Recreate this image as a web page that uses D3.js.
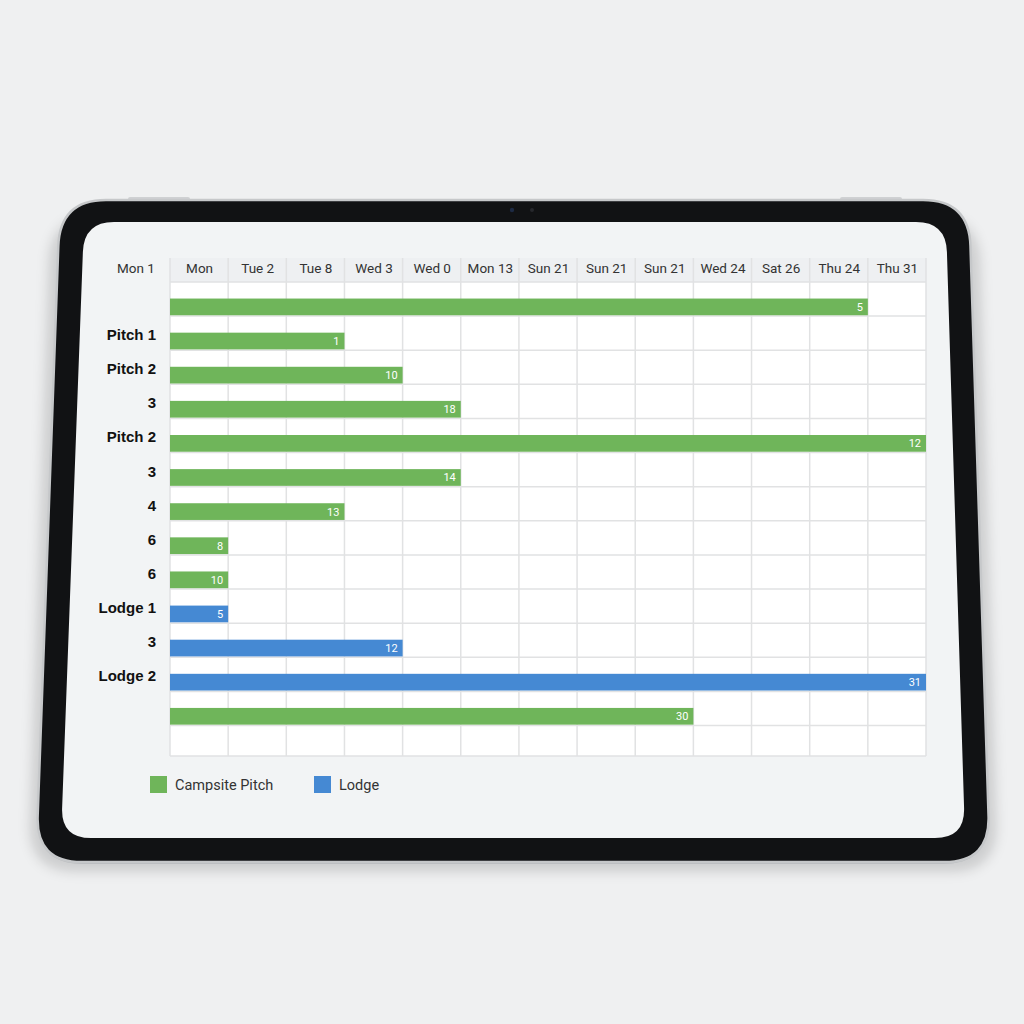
<!DOCTYPE html>
<html>
<head>
<meta charset="utf-8">
<script src="https://cdn.jsdelivr.net/npm/d3@7"></script>
<style>
  html, body { margin: 0; padding: 0; background: #eff0f1; }
  svg { display: block; }
</style>
</head>
<body>
<svg id="chart" width="1024" height="1024"></svg>
<script>
// ---- data ----
const cornerLabel = "Mon 1";
const columnLabels = ["Mon", "Tue 2", "Tue 8", "Wed 3", "Wed 0", "Mon 13", "Sun 21", "Sun 21", "Sun 21", "Wed 24", "Sat 26", "Thu 24", "Thu 31"];
const rowLabels = ["", "Pitch 1", "Pitch 2", "3", "Pitch 2", "3", "4", "6", "6", "Lodge 1", "3", "Lodge 2", ""];
const spanDays = [12, 3, 4, 5, 13, 5, 3, 1, 1, 1, 4, 13, 9];
const barLabels = ["5", "1", "10", "18", "12", "14", "13", "8", "10", "5", "12", "31", "30"];
const barTypes = ["Campsite Pitch", "Campsite Pitch", "Campsite Pitch", "Campsite Pitch", "Campsite Pitch", "Campsite Pitch", "Campsite Pitch", "Campsite Pitch", "Campsite Pitch", "Lodge", "Lodge", "Lodge", "Campsite Pitch"];
const legendNames = ["Campsite Pitch", "Lodge"];
const legendColors = ["#6fb55a", "#4589d3"];

const svg = d3.select("#chart");

// ---- tablet frame ----
function roundedQuad(pts, r) {
  const n = pts.length;
  let d = "";
  for (let i = 0; i < n; i++) {
    const p0 = pts[(i - 1 + n) % n], p1 = pts[i], p2 = pts[(i + 1) % n];
    const v1 = [p0[0] - p1[0], p0[1] - p1[1]], v2 = [p2[0] - p1[0], p2[1] - p1[1]];
    const l1 = Math.hypot(v1[0], v1[1]), l2 = Math.hypot(v2[0], v2[1]);
    const a = [p1[0] + v1[0] / l1 * r, p1[1] + v1[1] / l1 * r];
    const b = [p1[0] + v2[0] / l2 * r, p1[1] + v2[1] / l2 * r];
    d += (i === 0 ? "M" : "L") + a[0] + "," + a[1] + "Q" + p1[0] + "," + p1[1] + " " + b[0] + "," + b[1];
  }
  return d + "Z";
}
const defs = svg.append("defs");
const blur = defs.append("filter").attr("id", "shadow").attr("x", "-10%").attr("y", "-10%").attr("width", "120%").attr("height", "130%");
blur.append("feGaussianBlur").attr("stdDeviation", 6);

const outer = [[60, 200], [969, 200], [990, 862], [36, 862]];
const inner = [[84, 222], [946, 222], [965, 838], [61, 838]];

svg.append("path").attr("d", roundedQuad([[50, 215], [979, 215], [998, 872], [28, 872]], 48))
  .attr("fill", "rgba(0,0,0,0.14)").attr("filter", "url(#shadow)");
// side buttons
svg.append("rect").attr("x", 128).attr("y", 197).attr("width", 62).attr("height", 4).attr("rx", 2).attr("fill", "#cfd1d3");
svg.append("rect").attr("x", 840).attr("y", 197).attr("width", 62).attr("height", 4).attr("rx", 2).attr("fill", "#cfd1d3");
svg.append("path").attr("d", roundedQuad([[60, 201], [969, 201], [990, 864], [36, 864]], 47)).attr("fill", "#b9bbbe");
svg.append("path").attr("d", roundedQuad(outer, 46)).attr("fill", "#111214").attr("stroke", "#c6c8ca").attr("stroke-width", 2.5);
svg.append("path").attr("d", roundedQuad(inner, 30)).attr("fill", "#f2f4f5");
svg.append("circle").attr("cx", 512).attr("cy", 210).attr("r", 2.2).attr("fill", "#1d2a44");
svg.append("circle").attr("cx", 532).attr("cy", 210).attr("r", 2).attr("fill", "#26282c");

// ---- chart ----
const gridLeft = 170, gridRight = 926, headTop = 258, headBottom = 282, rowsBottom = 725.5, gridBottom = 756;
const x = d3.scaleLinear().domain([0, columnLabels.length]).range([gridLeft, gridRight]);
const y = d3.scaleBand().domain(d3.range(rowLabels.length)).range([headBottom, rowsBottom]).padding(0);
const color = d3.scaleOrdinal().domain(legendNames).range(legendColors);
const bw = y.bandwidth();

const g = svg.append("g").attr("font-family", "Roboto, 'Liberation Sans', Arial, sans-serif");

// header bg + body bg
g.append("rect").attr("x", gridLeft).attr("y", headTop).attr("width", gridRight - gridLeft).attr("height", headBottom - headTop).attr("fill", "#eef0f2");
g.append("rect").attr("x", gridLeft).attr("y", headBottom).attr("width", gridRight - gridLeft).attr("height", gridBottom - headBottom).attr("fill", "#ffffff");

// grid lines
const hLines = d3.range(rowLabels.length + 1).map(i => i < rowLabels.length ? y(i) : rowsBottom).concat([gridBottom]);
g.append("g").selectAll("line").data(hLines).join("line")
  .attr("x1", gridLeft).attr("x2", gridRight).attr("y1", d => d).attr("y2", d => d)
  .attr("stroke", "#e1e2e3").attr("stroke-width", 1.5);
g.append("g").selectAll("line").data(d3.range(columnLabels.length + 1)).join("line")
  .attr("x1", d => x(d)).attr("x2", d => x(d)).attr("y1", headTop).attr("y2", gridBottom)
  .attr("stroke", "#e1e2e3").attr("stroke-width", 1.5);

// header labels via axis
const xAxis = d3.axisTop(x).tickValues(d3.range(columnLabels.length).map(i => i + 0.5))
  .tickFormat(d => columnLabels[Math.floor(d)]).tickSize(0).tickPadding(0);
const ax = g.append("g").attr("transform", `translate(0,${273})`).call(xAxis);
ax.select(".domain").remove();
ax.selectAll("text").attr("font-size", 13.5).attr("fill", "#333").attr("font-family", "Roboto, 'Liberation Sans', Arial, sans-serif");
g.append("text").attr("x", 136).attr("y", 273).attr("text-anchor", "middle").attr("font-size", 13.5).attr("fill", "#333").text(cornerLabel);

// row labels
g.append("g").selectAll("text").data(rowLabels).join("text")
  .attr("x", 156).attr("y", (d, i) => y(i) + bw * 0.6 + 3.5)
  .attr("text-anchor", "end").attr("font-size", 15).attr("font-weight", "bold")
  .attr("font-family", "'Liberation Sans', Arial, sans-serif").attr("fill", "#111").text(d => d);

// bars
const bars = rowLabels.map((r, i) => ({ i, span: spanDays[i], label: barLabels[i], type: barTypes[i] }));
g.append("g").selectAll("rect").data(bars).join("rect")
  .attr("x", x(0)).attr("y", d => y(d.i) + bw * 0.485).attr("width", d => x(d.span) - x(0)).attr("height", bw * 0.49)
  .attr("fill", d => color(d.type));
g.append("g").selectAll("text").data(bars).join("text")
  .attr("x", d => x(d.span) - 5).attr("y", d => y(d.i) + bw * 0.485 + bw * 0.245 + 4)
  .attr("text-anchor", "end").attr("font-size", 11).attr("fill", "#ffffff").text(d => d.label);

// legend
const legendX = [150, 314];
const lg = g.append("g").selectAll("g").data(legendNames).join("g")
  .attr("transform", (d, i) => `translate(${legendX[i]},776)`);
lg.append("rect").attr("width", 17).attr("height", 17).attr("fill", d => color(d));
lg.append("text").attr("x", 25).attr("y", 14).attr("font-size", 14.5).attr("fill", "#333").text(d => d);
</script>
</body>
</html>
